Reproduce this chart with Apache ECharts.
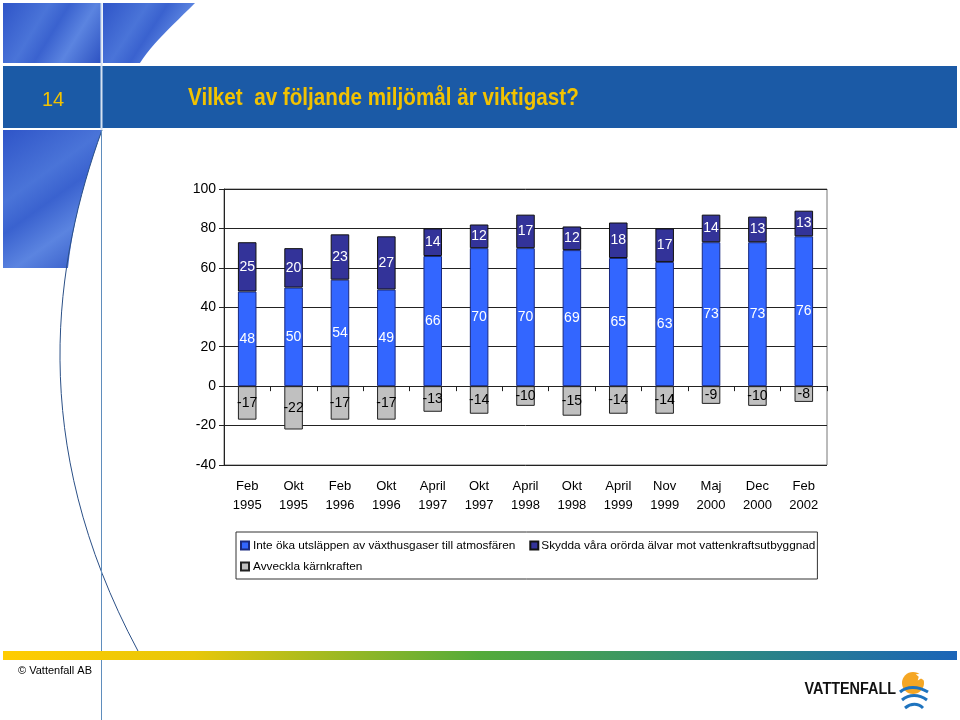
<!DOCTYPE html>
<html><head><meta charset="utf-8">
<script src="https://cdn.jsdelivr.net/npm/echarts@6/dist/echarts.min.js"></script>
<style>html,body{margin:0;padding:0;background:#fff}#c{width:960px;height:720px}</style>
</head><body><div id="c"></div>
<script>
var months = ['Feb','Okt','Feb','Okt','April','Okt','April','Okt','April','Nov','Maj','Dec','Feb'];
var years  = ['1995','1995','1996','1996','1997','1997','1998','1998','1999','1999','2000','2000','2002'];
var categories = months.map(function(m,i){return m+'\n'+years[i];});
var seriesNames = ['Inte öka utsläppen av växthusgaser till atmosfären','Skydda våra orörda älvar mot vattenkraftsutbyggnad','Avveckla kärnkraften'];
var klimat = [48,50,54,49,66,70,70,69,65,63,73,73,76];
var alvar  = [25,20,23,27,14,12,17,12,18,17,14,13,13];
var karn   = [-17,-22,-17,-17,-13,-14,-10,-15,-14,-14,-9,-10,-8];
var yTicks = {min:-40,max:100,interval:20};

var FONT = 'Liberation Sans, Arial, sans-serif';

function bez(p0,p1,p2,p3,n){
  var pts=[];
  for(var i=0;i<=n;i++){var t=i/n,u=1-t;
    pts.push([u*u*u*p0[0]+3*u*u*t*p1[0]+3*u*t*t*p2[0]+t*t*t*p3[0],
              u*u*u*p0[1]+3*u*u*t*p1[1]+3*u*t*t*p2[1]+t*t*t*p3[1]]);}
  return pts;
}
function tex(){return new echarts.graphic.LinearGradient(0,0,1,1,[
  {offset:0,color:'#2f55c8'},{offset:0.35,color:'#4a74d8'},{offset:0.5,color:'#3a62cf'},{offset:0.7,color:'#5b84e0'},{offset:1,color:'#2d52c2'}]);}
var topBlock = [[103,3]].concat(bez([195,3],[172,26],[152,44],[140,63],12)).concat([[103,63]]);
var lowBlock = [[3,130]].concat(bez([102,130],[86,175],[73,220],[68,268],12)).concat([[3,268]]);
var star=[];for(var k=0;k<10;k++){var a=-Math.PI/2+k*Math.PI/5,r=(k%2?2.4:5.5);star.push([921+r*Math.cos(a),676+r*Math.sin(a)]);}

var chart = echarts.init(document.getElementById('c'));
function lbl(c){return {show:true,position:'inside',color:c,fontSize:14,fontFamily:FONT};}
chart.setOption({
  animation:false,
  textStyle:{fontFamily:FONT},
  grid:{left:224,right:133,top:189,bottom:255,show:true,borderColor:'#777',borderWidth:1,backgroundColor:'transparent'},
  legend:{
    data:[
      {name:seriesNames[0],textStyle:{padding:[0,10,0,-1]}},
      {name:seriesNames[1],textStyle:{padding:[0,0,0,-2]}},
      {name:seriesNames[2],textStyle:{padding:[0,0,0,-1]}}
    ],
    left:236, top:532, width:600,
    orient:'horizontal', padding:[5,2,4,4], itemGap:4, itemWidth:8, itemHeight:8,
    icon:'rect', borderColor:'#333', borderWidth:1,
    textStyle:{fontFamily:FONT,fontSize:11.8,color:'#000',lineHeight:17}
  },
  xAxis:[
    {type:'category',data:categories,position:'bottom',
     axisLine:{onZero:true,lineStyle:{color:'#222',width:1}},
     axisTick:{show:true,length:5,lineStyle:{color:'#222'}},
     axisLabel:{show:false},splitLine:{show:false}},
    {type:'category',data:categories,position:'bottom',
     axisLine:{show:false},axisTick:{show:false},
     axisLabel:{show:true,interval:0,fontSize:13,lineHeight:19,margin:12,color:'#000',fontFamily:FONT},
     splitLine:{show:false}}
  ],
  yAxis:{type:'value',min:yTicks.min,max:yTicks.max,interval:yTicks.interval,
    axisLine:{show:true,lineStyle:{color:'#222'}},
    axisTick:{show:true,length:5,lineStyle:{color:'#222'}},
    axisLabel:{fontSize:14,color:'#000',margin:8,fontFamily:FONT},
    splitLine:{show:true,lineStyle:{color:'#222',width:1}}},
  series:[
    {name:seriesNames[0],type:'bar',stack:'s',data:klimat,barWidth:'40%',
     itemStyle:{color:'#3366FF',borderColor:'#1a2a80',borderWidth:1},label:lbl('#fff')},
    {name:seriesNames[1],type:'bar',stack:'s',data:alvar,barWidth:'40%',
     itemStyle:{color:'#333399',borderColor:'#111',borderWidth:1},label:lbl('#fff')},
    {name:seriesNames[2],type:'bar',stack:'s',data:karn,barWidth:'40%',
     itemStyle:{color:'#C0C0C0',borderColor:'#222',borderWidth:1},label:lbl('#000')}
  ],
  graphic:[
    {type:'rect',shape:{x:3,y:3,width:98,height:60},style:{fill:tex()},silent:true},
    {type:'polygon',shape:{points:topBlock},style:{fill:tex()},silent:true},
    {type:'rect',shape:{x:3,y:66,width:954,height:62},style:{fill:'#1b5aa6'},silent:true},
    {type:'line',shape:{x1:101.5,y1:3,x2:101.5,y2:130},style:{stroke:'#d6e2f2',lineWidth:2},silent:true},
    {type:'polygon',shape:{points:lowBlock},style:{fill:tex()},silent:true},
    {type:'bezierCurve',shape:{x1:102,y1:130,cpx1:55,cpy1:260,cpx2:25,cpy2:440,x2:138,y2:651},style:{stroke:'#2a4f86',lineWidth:1,fill:null},silent:true},
    {type:'line',shape:{x1:101.5,y1:130,x2:101.5,y2:720},style:{stroke:'#5f8dbd',lineWidth:1},silent:true},
    {type:'rect',shape:{x:3,y:651,width:954,height:9},style:{fill:new echarts.graphic.LinearGradient(0,0,1,0,[
      {offset:0,color:'#ffcc00'},{offset:0.2,color:'#e8c70a'},{offset:0.5,color:'#53ab3a'},{offset:0.75,color:'#2e8b7c'},{offset:1,color:'#1b64b8'}])},silent:true},
    {type:'text',style:{x:53,y:100,text:'14',fill:'#f2c200',fontSize:20,fontFamily:FONT,textAlign:'center',textVerticalAlign:'middle'},silent:true},
    {type:'text',x:188,y:98,scaleX:0.86,scaleY:1,style:{x:0,y:0,text:'Vilket  av följande miljömål är viktigast?',fill:'#f2c200',fontSize:24,fontWeight:'bold',fontFamily:FONT,textAlign:'left',textVerticalAlign:'middle'},silent:true},
    {type:'text',style:{x:55,y:671,text:'© Vattenfall AB',fill:'#000',fontSize:11,fontFamily:FONT,textAlign:'center',textVerticalAlign:'middle'},silent:true},
    {type:'text',x:896,y:690,scaleX:0.9,style:{x:0,y:0,text:'VATTENFALL',fill:'#111',fontSize:16,fontWeight:'bold',fontFamily:FONT,textAlign:'right',textVerticalAlign:'middle'},silent:true},
    {type:'circle',shape:{cx:913,cy:683,r:11},style:{fill:'#f5a623'},silent:true},
    {type:'polygon',shape:{points:star},style:{fill:'#fff'},silent:true},
    {type:'bezierCurve',shape:{x1:900,y1:692,cpx1:907,cpy1:686,cpx2:918,cpy2:686,x2:928,y2:692},style:{stroke:'#1e73be',lineWidth:3,fill:null},silent:true},
    {type:'bezierCurve',shape:{x1:902,y1:700,cpx1:909,cpy1:694,cpx2:919,cpy2:694,x2:927,y2:700},style:{stroke:'#1e73be',lineWidth:3,fill:null},silent:true},
    {type:'bezierCurve',shape:{x1:905,y1:708,cpx1:911,cpy1:703,cpx2:918,cpy2:703,x2:923,y2:708},style:{stroke:'#1e73be',lineWidth:3,fill:null},silent:true}
  ]
});
</script></body></html>
